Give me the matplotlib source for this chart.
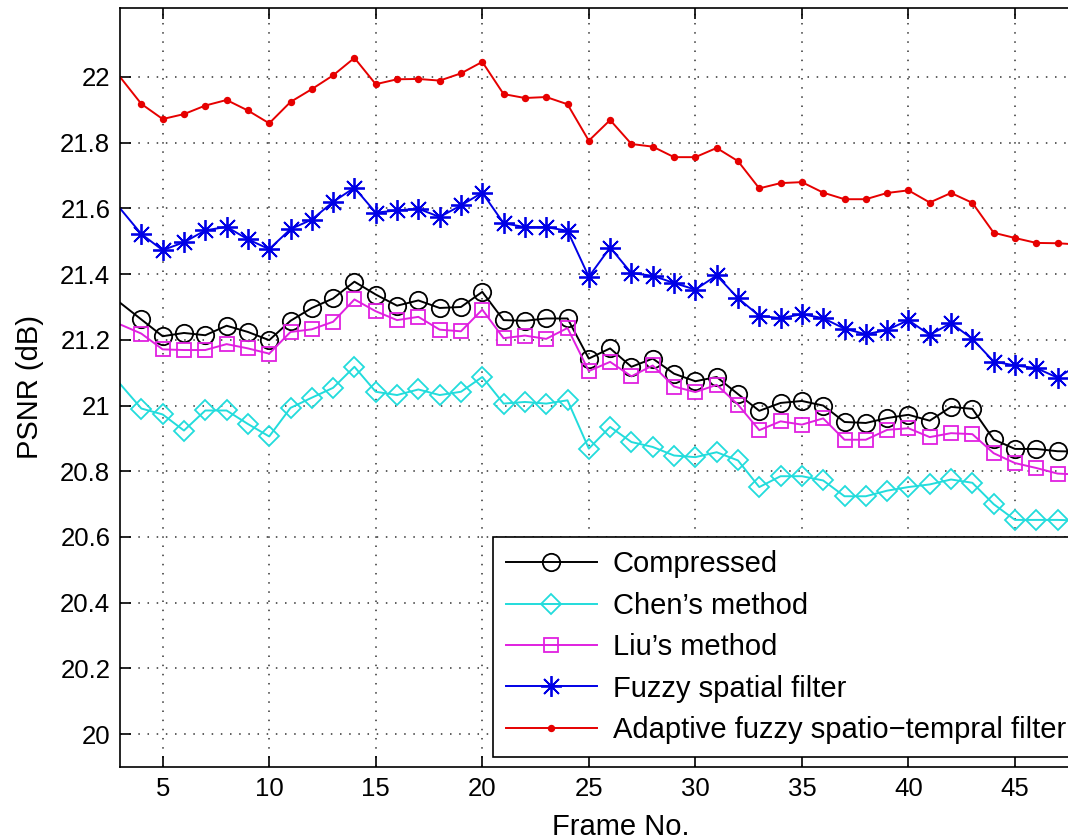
import numpy as np
import matplotlib
matplotlib.use("Agg")
import matplotlib.pyplot as plt

plt.rcParams['font.family'] = ['Liberation Sans', 'DejaVu Sans']

frames = np.arange(3, 49)

compressed = [21.313, 21.262, 21.211, 21.221, 21.214, 21.243, 21.224, 21.199, 21.258, 21.297,
              21.326, 21.377, 21.338, 21.304, 21.320, 21.297, 21.300, 21.346, 21.260, 21.258,
              21.265, 21.265, 21.143, 21.174, 21.118, 21.143, 21.097, 21.074, 21.087, 21.035,
              20.984, 21.008, 21.014, 21.000, 20.950, 20.947, 20.962, 20.972, 20.954, 20.996,
              20.990, 20.897, 20.868, 20.868, 20.861, 20.860]
chen = [21.066, 20.991, 20.973, 20.924, 20.985, 20.985, 20.944, 20.906, 20.993, 21.024,
        21.054, 21.118, 21.042, 21.032, 21.049, 21.032, 21.042, 21.087, 21.006, 21.011,
        21.006, 21.016, 20.869, 20.935, 20.889, 20.874, 20.848, 20.843, 20.858, 20.833,
        20.752, 20.785, 20.785, 20.772, 20.724, 20.724, 20.741, 20.752, 20.760, 20.775,
        20.765, 20.700, 20.652, 20.652, 20.652, 20.650]
liu = [21.247, 21.219, 21.171, 21.169, 21.169, 21.187, 21.174, 21.158, 21.224, 21.232,
       21.255, 21.323, 21.287, 21.260, 21.270, 21.231, 21.226, 21.292, 21.205, 21.213,
       21.203, 21.236, 21.105, 21.133, 21.089, 21.122, 21.058, 21.041, 21.063, 21.003,
       20.925, 20.952, 20.942, 20.961, 20.896, 20.896, 20.926, 20.931, 20.904, 20.916,
       20.913, 20.855, 20.825, 20.810, 20.793, 20.790]
fuzzy = [21.600, 21.522, 21.473, 21.497, 21.533, 21.544, 21.506, 21.476, 21.537, 21.566,
         21.620, 21.663, 21.587, 21.594, 21.599, 21.574, 21.609, 21.648, 21.555, 21.543,
         21.543, 21.532, 21.392, 21.481, 21.403, 21.395, 21.373, 21.353, 21.396, 21.327,
         21.273, 21.266, 21.278, 21.266, 21.234, 21.217, 21.230, 21.260, 21.215, 21.251,
         21.203, 21.134, 21.122, 21.114, 21.085, 21.125]
adaptive = [22.000, 21.918, 21.872, 21.887, 21.913, 21.930, 21.898, 21.859, 21.924, 21.963,
            22.005, 22.058, 21.978, 21.993, 21.994, 21.989, 22.011, 22.046, 21.948, 21.936,
            21.939, 21.917, 21.806, 21.869, 21.796, 21.788, 21.756, 21.756, 21.784, 21.744,
            21.661, 21.677, 21.680, 21.648, 21.628, 21.628, 21.647, 21.655, 21.618, 21.647,
            21.617, 21.526, 21.510, 21.495, 21.494, 21.490]

labels = ["Compressed", "Chen\u2019s method", "Liu\u2019s method",
          "Fuzzy spatial filter", "Adaptive fuzzy spatio\u2212tempral filter"]
xticks = [5, 10, 15, 20, 25, 30, 35, 40, 45]
yticks = np.round(np.arange(20, 22.01, 0.2), 1)

fig = plt.figure(figsize=(10.68, 8.4), dpi=100)
ax = fig.add_axes([0.1124, 0.0869, 0.9377, 0.9036])

series = [compressed, chen, liu, fuzzy, adaptive]
colors = ['black', '#22dcdc', '#e020e0', '#0000e6', '#e60000']
markers = ['o', 'D', 's', (8, 2, 0), '.']
sizes = [12.5, 10.5, 10, 15, 8]
hollow = [True, True, True, False, False]

# first point sits on the left edge, no marker there
mk = list(range(1, len(frames)))
for y, c, m, s, h, lab in zip(series, colors, markers, sizes, hollow, labels):
    ax.plot(frames, y, color=c, marker=m, markersize=s, markerfacecolor='none' if h else c,
            markeredgewidth=1.3, linewidth=1.4, label=lab, markevery=mk)

ax.set_xlim(3, 50)
ax.set_ylim(19.9, 22.21)
ax.set_xticks(xticks)
ax.set_yticks(yticks)
ax.set_yticklabels(['%g' % v for v in yticks])
ax.tick_params(direction='in', length=8, width=1.2, labelsize=18.5, top=True, right=True, pad=7)
ax.grid(True, color='black', linestyle=(0, (1, 5)), linewidth=1.1, alpha=0.8)
for sp in ax.spines.values():
    sp.set_linewidth(1.2)

ax.set_xlabel("Frame No.", fontsize=21, labelpad=9)
ax.set_ylabel("PSNR (dB)", fontsize=21, labelpad=12)

leg = ax.legend(loc='lower left', bbox_to_anchor=(0.3724, 0.013), fontsize=21,
                handlelength=3.1, handletextpad=0.55, labelspacing=0.46, borderpad=0.45,
                borderaxespad=0, fancybox=False, framealpha=1, edgecolor='black')
leg.get_frame().set_linewidth(1.2)

fig.savefig("out.png", dpi=100)
